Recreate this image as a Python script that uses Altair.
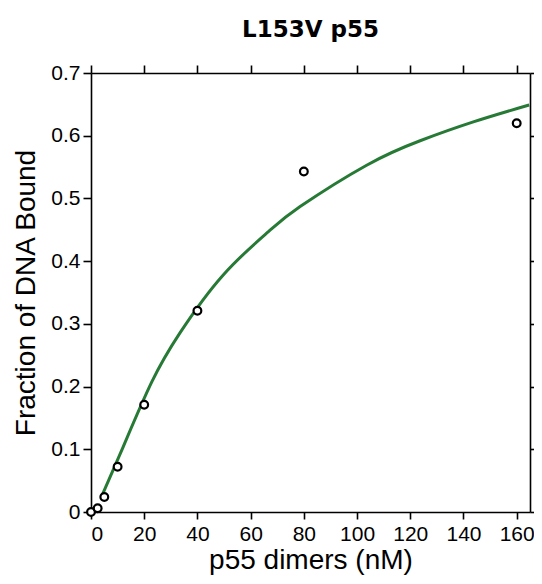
import altair as alt
import pandas as pd

# Measured data points
conc = [0, 2.5, 5, 10, 20, 40, 80, 160]
frac = [0.0, 0.006, 0.024, 0.072, 0.171, 0.321, 0.543, 0.620]

# Fitted curve
curve_x = [4.0, 12.1, 22.8, 33.5, 49.7, 66.7, 78.6, 103.6, 123.7, 143.7, 164.7]
curve_y = [0.025, 0.104, 0.207, 0.286, 0.378, 0.447, 0.487, 0.553, 0.592, 0.622, 0.649]

x_ticks = [0, 20, 40, 60, 80, 100, 120, 140, 160]
y_ticks = [0, 0.1, 0.2, 0.3, 0.4, 0.5, 0.6, 0.7]

pts = pd.DataFrame({"x": conc, "y": frac})
fit = pd.DataFrame({"x": curve_x, "y": curve_y})

FONT = "Liberation Sans"
xs = alt.Scale(domain=[0, 165], nice=False, zero=False)
ys = alt.Scale(domain=[0, 0.7], nice=False, zero=False)

common_axis = dict(
    domainColor="black", domainWidth=1.6, tickColor="black", tickWidth=1.6,
    labelFont=FONT, labelFontSize=21, labelColor="black",
    titleFont=FONT, titleFontSize=28, titleColor="black", titleFontWeight="normal",
    grid=False,
)

x_bottom = alt.Axis(orient="bottom", values=x_ticks, title="p55 dimers (nM)", tickSize=7,
                    labelPadding=4, titlePadding=2, **common_axis)
y_left = alt.Axis(orient="left", values=y_ticks, title="Fraction of DNA Bound", tickSize=8,
                  labelExpr="datum.value == 0 ? '0' : format(datum.value, '.1f')",
                  labelPadding=3, titlePadding=10, **common_axis)
x_top = alt.Axis(orient="top", values=x_ticks, labels=False, title=None, tickSize=8, **common_axis)
y_right = alt.Axis(orient="right", values=y_ticks, labels=False, title=None, tickSize=4, **common_axis)

line = alt.Chart(fit).mark_line(color="#267a35", strokeWidth=3, interpolate="natural").encode(
    x=alt.X("x:Q", scale=xs, axis=x_bottom),
    y=alt.Y("y:Q", scale=ys, axis=y_left),
)

frame = alt.Chart(fit).mark_point(opacity=0).encode(
    x=alt.X("x:Q", scale=xs, axis=x_top),
    y=alt.Y("y:Q", scale=ys, axis=y_right),
)

points = alt.Chart(pts).mark_point(
    shape="circle", filled=False, fill="white", fillOpacity=1,
    stroke="black", strokeWidth=2.2, size=60, clip=False
).encode(
    x=alt.X("x:Q", scale=xs, axis=None),
    y=alt.Y("y:Q", scale=ys, axis=None),
)

chart = alt.layer(line, frame, points).resolve_axis(
    x="independent", y="independent"
).properties(
    width=439, height=439,
    title=alt.TitleParams("L153V p55", font="DejaVu Sans", fontSize=23, fontWeight="bold",
                          color="black", anchor="middle", offset=20),
    padding={"left": 83, "top": 65, "right": 4, "bottom": 64},
    autosize=alt.AutoSizeParams(type="none"),
).configure_view(stroke=None)

chart.save("out.html", embed_options={"renderer": "svg", "actions": False})
